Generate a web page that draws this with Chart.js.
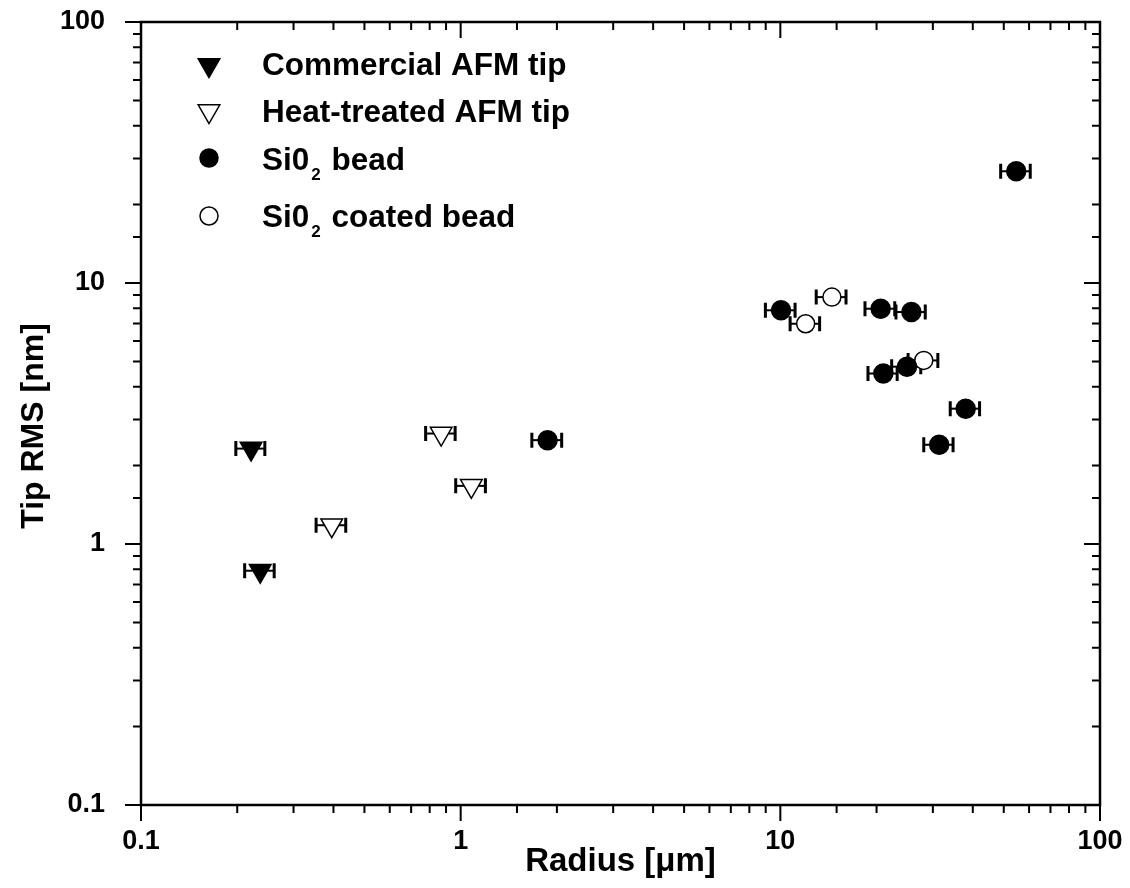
<!DOCTYPE html>
<html>
<head>
<meta charset="utf-8">
<script src="https://cdn.jsdelivr.net/npm/chart.js@4/dist/chart.umd.min.js"></script>
<style>
  body { margin: 0; background: #fff; }
  canvas { display: block; }
</style>
</head>
<body>
<canvas id="myChart" width="1130" height="888"></canvas>
<script>
// valores (raio em µm, rugosidade RMS em nm)
const commercialX = [0.221, 0.236];
const commercialY = [2.32, 0.79];
const commercialErr = [0.023, 0.025];

const heatX = [0.395, 0.869, 1.08];
const heatY = [1.18, 2.65, 1.67];
const heatErr = [0.042, 0.092, 0.115];

const beadX = [1.87, 10.05, 20.6, 25.7, 21.0, 24.9, 38.0, 31.4, 54.7];
const beadY = [2.50, 7.86, 7.97, 7.74, 4.50, 4.78, 3.30, 2.40, 26.8];
const beadErr = [0.2, 1.07, 2.2, 2.7, 2.2, 2.6, 4.0, 3.3, 5.8];

const coatedX = [12.0, 14.5, 28.1];
const coatedY = [6.98, 8.83, 5.05];
const coatedErr = [1.27, 1.55, 3.0];

const legendLabels = [
  ['Commercial AFM tip'],
  ['Heat-treated AFM tip'],
  ['Si0', '2', ' bead'],
  ['Si0', '2', ' coated bead']
];

const FONT = '"Liberation Sans", Arial, sans-serif';

const toPoints = (xs, ys) => xs.map((x, i) => ({ x: x, y: ys[i] }));

const isDecade = v => Math.abs(Math.log10(v) - Math.round(Math.log10(v))) < 1e-6;

// barras de erro horizontais
const errorBars = {
  id: 'errorBars',
  beforeDatasetsDraw(chart) {
    const ctx = chart.ctx;
    const xs = chart.scales.x, ys = chart.scales.y;
    ctx.save();
    ctx.strokeStyle = '#000';
    chart.data.datasets.forEach(ds => {
      ds.data.forEach((p, i) => {
        const e = ds.xErr[i];
        const x1 = xs.getPixelForValue(p.x - e);
        const x2 = xs.getPixelForValue(p.x + e);
        const y = ys.getPixelForValue(p.y);
        ctx.lineWidth = 2;
        ctx.beginPath();
        ctx.moveTo(x1, y);
        ctx.lineTo(x2, y);
        ctx.stroke();
        ctx.lineWidth = 3;
        ctx.beginPath();
        ctx.moveTo(x1, y - 7.5);
        ctx.lineTo(x1, y + 7.5);
        ctx.moveTo(x2, y - 7.5);
        ctx.lineTo(x2, y + 7.5);
        ctx.stroke();
      });
    });
    ctx.restore();
  }
};

// moldura e marcas dos eixos
const frameTicks = {
  id: 'frameTicks',
  afterDraw(chart) {
    const ctx = chart.ctx;
    const a = chart.chartArea;
    const xs = chart.scales.x, ys = chart.scales.y;
    ctx.save();
    ctx.strokeStyle = '#000';
    ctx.lineWidth = 2;
    xs.ticks.forEach(t => {
      const px = xs.getPixelForValue(t.value);
      const len = isDecade(t.value) ? 16 : 8;
      ctx.beginPath();
      ctx.moveTo(px, a.bottom);
      ctx.lineTo(px, a.bottom + len);
      ctx.moveTo(px, a.top);
      ctx.lineTo(px, a.top + len);
      ctx.stroke();
    });
    ys.ticks.forEach(t => {
      const py = ys.getPixelForValue(t.value);
      const len = isDecade(t.value) ? 16 : 8;
      ctx.beginPath();
      ctx.moveTo(a.left, py);
      ctx.lineTo(a.left - len, py);
      ctx.moveTo(a.right, py);
      ctx.lineTo(a.right - len, py);
      ctx.stroke();
    });
    ctx.lineWidth = 2.5;
    ctx.strokeRect(a.left, a.top, a.right - a.left, a.bottom - a.top);

    // título do eixo y
    ctx.fillStyle = '#000';
    ctx.font = 'bold 32px ' + FONT;
    ctx.textAlign = 'center';
    ctx.textBaseline = 'middle';
    ctx.translate(34, 426);
    ctx.rotate(-Math.PI / 2);
    ctx.fillText('Tip RMS [nm]', 0, 0);
    ctx.restore();
  }
};

const drawMarker = (ctx, style, filled, x, y) => {
  ctx.beginPath();
  if (style === 'triangle') {
    const r = 12.5;
    for (let k = 0; k < 3; k++) {
      const ang = Math.PI + k * 2 * Math.PI / 3;
      const px = x + Math.sin(ang) * r;
      const py = y - Math.cos(ang) * r;
      if (k === 0) ctx.moveTo(px, py); else ctx.lineTo(px, py);
    }
    ctx.closePath();
  } else {
    ctx.arc(x, y, 9, 0, Math.PI * 2);
  }
  ctx.fillStyle = filled ? '#000' : '#fff';
  ctx.fill();
  ctx.lineWidth = 1.5;
  ctx.strokeStyle = '#000';
  ctx.stroke();
};

// legenda com subscrito
const customLegend = {
  id: 'customLegend',
  afterDraw(chart) {
    const ctx = chart.ctx;
    const rowsY = [65, 111, 158, 216];
    const baseY = [75, 122, 170, 227];
    ctx.save();
    chart.data.datasets.forEach((ds, i) => {
      drawMarker(ctx, ds.pointStyle, ds.backgroundColor === '#000', 209, rowsY[i]);
      let x = 262;
      ctx.fillStyle = '#000';
      ctx.textAlign = 'left';
      ctx.textBaseline = 'alphabetic';
      legendLabels[i].forEach((part, j) => {
        if (j === 1) {
          ctx.font = 'bold 17px ' + FONT;
          ctx.fillText(part, x + 2, baseY[i] + 10);
          x += ctx.measureText(part).width + 4;
        } else {
          ctx.font = 'bold 31.5px ' + FONT;
          ctx.fillText(part, x, baseY[i]);
          x += ctx.measureText(part).width;
        }
      });
    });
    ctx.restore();
  }
};

const ctx = document.getElementById('myChart').getContext('2d');

const myChart = new Chart(ctx, {
  type: 'scatter',
  data: {
    datasets: [
      {
        label: 'Commercial AFM tip',
        data: toPoints(commercialX, commercialY),
        xErr: commercialErr,
        pointStyle: 'triangle',
        rotation: 180,
        radius: 12.5,
        backgroundColor: '#000',
        borderColor: '#000',
        borderWidth: 1.5
      },
      {
        label: 'Heat-treated AFM tip',
        data: toPoints(heatX, heatY),
        xErr: heatErr,
        pointStyle: 'triangle',
        rotation: 180,
        radius: 12.5,
        backgroundColor: '#fff',
        borderColor: '#000',
        borderWidth: 1.5
      },
      {
        label: 'Si02 bead',
        data: toPoints(beadX, beadY),
        xErr: beadErr,
        pointStyle: 'circle',
        radius: 9.5,
        backgroundColor: '#000',
        borderColor: '#000',
        borderWidth: 1.5
      },
      {
        label: 'Si02 coated bead',
        data: toPoints(coatedX, coatedY),
        xErr: coatedErr,
        pointStyle: 'circle',
        radius: 9,
        backgroundColor: '#fff',
        borderColor: '#000',
        borderWidth: 1.5
      }
    ]
  },
  options: {
    responsive: false,
    animation: false,
    layout: {
      padding: { top: 22, right: 30, left: 0, bottom: 0 }
    },
    plugins: {
      legend: { display: false },
      tooltip: { enabled: false }
    },
    scales: {
      x: {
        type: 'logarithmic',
        min: 0.1,
        max: 100,
        grid: { display: false },
        border: { display: false },
        afterFit: s => { s.height = 83; s.paddingLeft = 0; s.paddingRight = 0; },
        ticks: {
          autoSkip: false,
          maxRotation: 0,
          padding: 12,
          color: '#000',
          font: { family: FONT, size: 27, weight: 'bold' },
          callback: v => isDecade(v) ? String(v) : ''
        },
        title: {
          display: true,
          text: 'Radius [μm]',
          color: '#000',
          font: { family: FONT, size: 33, weight: 'bold' },
          padding: { top: 0, bottom: 6 }
        }
      },
      y: {
        type: 'logarithmic',
        min: 0.1,
        max: 100,
        grid: { display: false },
        border: { display: false },
        afterFit: s => { s.width = 141; s.paddingTop = 0; s.paddingBottom = 0; },
        ticks: {
          autoSkip: false,
          padding: 28,
          color: '#000',
          font: { family: FONT, size: 27, weight: 'bold' },
          callback: v => isDecade(v) ? String(v) : ''
        }
      }
    }
  },
  plugins: [errorBars, frameTicks, customLegend]
});
</script>
</body>
</html>
